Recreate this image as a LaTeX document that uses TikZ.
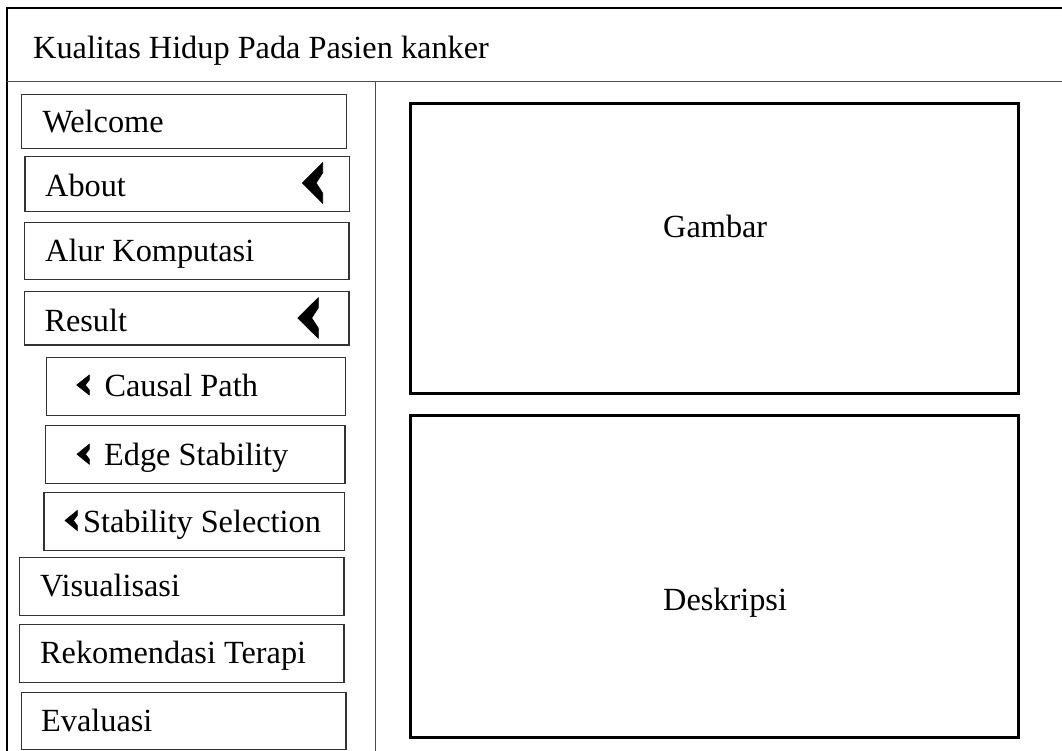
\documentclass[tikz,border=0pt]{standalone}
\usepackage{fontspec}
\setmainfont{Liberation Serif}
\begin{document}
\begin{tikzpicture}[x=1pt,y=-1pt,
  lbl/.style={inner sep=0pt, anchor=base west, font=\fontsize{32.3}{37}\selectfont},
  menubox/.style={draw=black!80, line width=1.3pt, anchor=north west, inner sep=0pt},
  panel/.style={draw=black, line width=2.6pt, anchor=north west, inner sep=0pt},
  frameline/.style={draw=black, line width=2.2pt},
  rule/.style={draw=black!70, line width=1.3pt},
  chev/.style={fill=black, draw=black, line width=0.6pt, line join=miter}]
% page size
\useasboundingbox (0,0) rectangle (1062,751);
\fill[white] (0,0) rectangle (1062,751);

% left-pointing chevron marker: tip x, centre y, width, height
\newcommand\menuchev[4]{%
  \filldraw[chev] (#1,#2) -- ++(#3,-#4/2) -- ++(0,0.5*#4/2)
    -- ++(-0.32*#3,0.5*#4/2) -- ++(0.32*#3,0.5*#4/2)
    -- ++(0,0.5*#4/2) -- cycle;}

% outer window frame, header rule and sidebar divider
\coordinate (frameBL) at (7,751);
\coordinate (frameTL) at (7,8);
\coordinate (frameTR) at (1062,8);
\draw[frameline] (frameBL) -- (frameTL) -- (frameTR);
\coordinate (hdrL) at (7,81.5);
\coordinate (hdrR) at (1062,81.5);
\draw[rule] (hdrL) -- (hdrR);
\coordinate (divT) at (375.5,81.5);
\coordinate (divB) at (375.5,751);
\draw[rule] (divT) -- (divB);

% title
\node[lbl] (title) at (33,58.3) {Kualitas Hidup Pada Pasien kanker};

% sidebar menu
\node[menubox, minimum width=325pt, minimum height=54pt] (welcome) at (20.7,93.7) {};
\node[lbl] (welcomeT) at (42.3,132.7) {Welcome};

\node[menubox, minimum width=324.4pt, minimum height=54.7pt] (about) at (24.3,156) {};
\node[lbl] (aboutT) at (45,196.7) {About};
\menuchev{302.3}{183}{20.4}{40.6}

\node[menubox, minimum width=324.3pt, minimum height=57.3pt] (alur) at (24,221.7) {};
\node[lbl] (alurT) at (45,261.7) {Alur Komputasi};

\node[menubox, minimum width=324.3pt, minimum height=53.6pt] (result) at (24,290.7) {};
\node[lbl] (resultT) at (44.3,331) {Result};
\menuchev{297.7}{318}{20.6}{40.6}

\node[menubox, minimum width=299.3pt, minimum height=58.3pt] (causal) at (45.7,356.7) {};
\node[lbl] (causalT) at (104.3,396.7) {Causal Path};
\menuchev{76.7}{385}{12.6}{20}

\node[menubox, minimum width=299.3pt, minimum height=58pt] (edge) at (45,424.7) {};
\node[lbl] (edgeT) at (104,465) {Edge Stability};
\menuchev{77}{454.2}{12.4}{20.3}

\node[menubox, minimum width=300.7pt, minimum height=58.3pt] (stabsel) at (43.3,491.7) {};
\node[lbl] (stabselT) at (83,532) {Stability Selection};
\menuchev{65}{520.5}{12.4}{20.3}

\node[menubox, minimum width=324.3pt, minimum height=58pt] (vis) at (19,557) {};
\node[lbl] (visT) at (40,596) {Visualisasi};

\node[menubox, minimum width=324.3pt, minimum height=58pt] (rekom) at (19,623.7) {};
\node[lbl] (rekomT) at (40,663.3) {Rekomendasi Terapi};

\node[menubox, minimum width=324.6pt, minimum height=57.3pt] (eval) at (20.7,691.7) {};
\node[lbl] (evalT) at (41,731.7) {Evaluasi};

% content panels
\node[panel, minimum width=608pt, minimum height=290pt] (gambar) at (409.3,102.3) {};
\node[lbl] (gambarT) at (663,238) {Gambar};

\node[panel, minimum width=608pt, minimum height=322pt] (deskripsi) at (409.3,414) {};
\node[lbl] (deskripsiT) at (663,610) {Deskripsi};
\end{tikzpicture}
\end{document}
